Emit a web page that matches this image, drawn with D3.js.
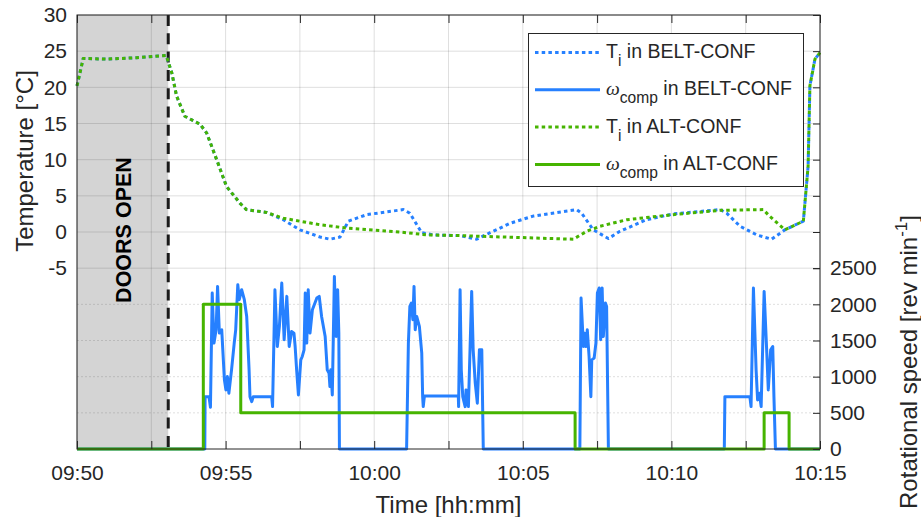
<!DOCTYPE html>
<html>
<head>
<meta charset="utf-8">
<script src="https://cdn.jsdelivr.net/npm/d3@7"></script>
<style>
  body { margin: 0; background: #fff; }
  text { font-family: "Liberation Sans", Arial, sans-serif; fill: #262626; }
</style>
</head>
<body>
<div id="chart"></div>
<script>
// Time is in minutes after 09:50
const xTicks = d3.range(0, 25.001, 2.5);
const xLabelMinutes = [0, 5, 10, 15, 20, 25];
const xTickLabels = ["09:50", "09:55", "10:00", "10:05", "10:10", "10:15"];
const tempTicks = [-5, 0, 5, 10, 15, 20, 25, 30];
const speedTicks = [0, 500, 1000, 1500, 2000, 2500];

const doorsClosedAt = 3.07;

// Ti in BELT-CONF  [minute, °C]
const tempBelt = [[0,20.2],[0.21,24.0],[1,23.9],[2,24.1],[3.0,24.4],[3.19,22.0],[3.35,18.8],[3.63,16.0],[4.14,14.9],
  [4.36,13.7],[4.7,10.0],[5.03,6.3],[5.48,4.0],[5.7,3.1],[6.38,2.7],[6.94,1.7],[7.5,0.3],[8.18,-0.7],[8.51,-1.0],
  [8.85,-0.7],[9.13,1.5],[9.75,2.4],[10.98,3.1],[11.2,2.6],[11.6,-0.1],[11.99,-0.4],[12.9,-0.5],[13.45,-1.0],
  [13.9,-0.1],[14.57,1.2],[15.35,2.2],[16.81,3.1],[16.98,2.6],[17.37,0.3],[17.88,-0.9],[18.27,0.1],[19.16,1.7],
  [20.06,2.5],[21.64,3.1],[21.86,2.6],[22.31,0.8],[22.87,-0.4],[23.37,-1.0],[23.82,0.3],[24.44,1.5],[24.6,9.1],
  [24.66,20.2],[24.83,23.9],[25,24.8]];

// Ti in ALT-CONF  [minute, °C]
const tempAlt = [[0,20.2],[0.21,24.0],[1,23.9],[2,24.1],[3.0,24.4],[3.19,22.0],[3.35,18.8],[3.63,16.0],[4.14,14.9],
  [4.36,13.7],[4.7,10.0],[5.03,6.3],[5.48,4.0],[5.7,3.1],[6.38,2.7],[6.94,1.9],[8.18,1.0],[9.07,0.55],[10.87,0.0],
  [11.77,-0.4],[12.89,-0.5],[16.7,-1.0],[17.15,0.1],[17.6,0.8],[18.5,1.7],[20.06,2.4],[21.64,3.0],[23.09,3.1],
  [23.3,2.2],[23.82,0.3],[24.44,1.5],[24.6,9.1],[24.66,20.2],[24.83,23.9],[25,24.8]];

// omega_comp in BELT-CONF  [minute, rev/min]
const speedBelt = [[0,0],[4.30,0],[4.31,724],[4.44,724],[4.49,577],[4.55,2156],[4.61,1464],[4.68,1648],[4.73,2248],
  [4.79,1602],[4.87,1648],[4.96,956],[5.01,817],[5.06,1001],[5.11,771],[5.20,1094],[5.29,1464],[5.34,1648],
  [5.41,2271],[5.46,2064],[5.54,2202],[5.63,2064],[5.71,1832],[5.79,1094],[5.82,724],[5.88,655],[5.93,724],
  [6.55,724],[6.58,586],[6.66,2202],[6.74,1417],[6.81,1694],[6.89,2295],[6.97,1510],[7.06,2110],[7.14,1417],
  [7.22,1625],[7.30,1602],[7.34,1417],[7.39,1094],[7.45,748],[7.53,1232],[7.58,1279],[7.64,1371],[7.68,2156],
  [7.73,1464],[7.78,2202],[7.84,1602],[7.92,1925],[8.07,2087],[8.15,2110],[8.23,1832],[8.35,1555],[8.42,1094],
  [8.48,1048],[8.51,863],[8.54,1094],[8.59,748],[8.66,2386],[8.72,1555],[8.77,2202],[8.81,1602],[8.83,0],
  [11.09,0],[11.15,1464],[11.20,1971],[11.25,2018],[11.30,1787],[11.34,2248],[11.38,1648],[11.43,1832],
  [11.52,1694],[11.60,1325],[11.63,724],[11.65,586],[11.69,734],[12.83,734],[12.84,586],[12.89,2202],
  [12.93,1094],[12.98,724],[13.06,586],[13.09,817],[13.17,586],[13.28,2179],[13.33,1371],[13.40,910],
  [13.47,633],[13.54,1371],[13.62,1371],[13.64,817],[13.67,0],[16.92,0],[16.96,2087],[17.04,1417],[17.07,1602],
  [17.12,1417],[17.17,1648],[17.23,1279],[17.29,724],[17.32,1232],[17.40,1256],[17.46,1464],[17.51,2156],
  [17.57,2226],[17.62,1510],[17.67,2226],[17.71,1555],[17.78,2018],[17.82,1971],[17.88,0],[21.78,0],
  [21.80,724],[22.64,724],[22.68,586],[22.76,2226],[22.85,1094],[22.90,679],[22.96,771],[23.02,586],
  [23.12,2179],[23.21,1325],[23.26,817],[23.34,1371],[23.41,1417],[23.45,724],[23.50,0],[25,0]];

// omega_comp in ALT-CONF  [minute, rev/min]
const speedAlt = [[0,0],[4.25,0],[4.25,2000],[5.51,2000],[5.51,500],[16.76,500],[16.76,0],[23.12,0],
  [23.12,500],[23.96,500],[23.96,0],[25,0]];

const legendNames = [
  {sym: "T", sub: "i", rest: " in BELT-CONF"},
  {sym: "\u03c9", sub: "comp", rest: " in BELT-CONF"},
  {sym: "T", sub: "i", rest: " in ALT-CONF"},
  {sym: "\u03c9", sub: "comp", rest: " in ALT-CONF"}
];

const blue = "#2680ff", green = "#46b400", axisColor = "#262626";

const W = 921, H = 517;
const plot = {left: 77, right: 820, top: 15, bottom: 449};

const svg = d3.select("#chart").append("svg")
    .attr("width", W)
    .attr("height", H);

const x = d3.scaleLinear().domain([0, 25]).range([plot.left, plot.right]);
const yT = d3.scaleLinear().domain([-30, 30]).range([plot.bottom, plot.top]);
const yS = d3.scaleLinear().domain([0, 6000]).range([plot.bottom, plot.top]);

// Shaded doors-open period
svg.append("rect")
    .attr("x", x(0))
    .attr("y", plot.top)
    .attr("width", x(doorsClosedAt) - x(0))
    .attr("height", plot.bottom - plot.top)
    .attr("fill", "#d4d4d4");

// Grid
const grid = svg.append("g").attr("stroke", "rgba(38,38,38,0.15)").attr("stroke-width", 1);
xTicks.forEach(t => grid.append("line")
    .attr("x1", x(t)).attr("x2", x(t)).attr("y1", plot.top).attr("y2", plot.bottom));
tempTicks.forEach(v => grid.append("line")
    .attr("x1", plot.left).attr("x2", plot.right).attr("y1", yT(v)).attr("y2", yT(v)));
speedTicks.filter(v => v > 0 && v < 2500).forEach(v => grid.append("line")
    .attr("x1", plot.left).attr("x2", plot.right).attr("y1", yS(v)).attr("y2", yS(v))
    .attr("stroke-dasharray", "2,2"));

// Doors line and label
svg.append("line")
    .attr("x1", x(doorsClosedAt)).attr("x2", x(doorsClosedAt))
    .attr("y1", plot.top).attr("y2", plot.bottom)
    .attr("stroke", "#1a1a1a")
    .attr("stroke-width", 3)
    .attr("stroke-dasharray", "11,7.3");

svg.append("text")
    .attr("transform", `translate(${(x(0) + x(doorsClosedAt)) / 2 + 8},230) rotate(-90)`)
    .attr("text-anchor", "middle")
    .style("font-weight", "bold")
    .style("font-size", "21.5px")
    .style("fill", "#000")
    .text("DOORS OPEN");

// Lines
const tempLine = d3.line().x(d => x(d[0])).y(d => yT(d[1]));
const speedLine = d3.line().x(d => x(d[0])).y(d => yS(d[1]));

function drawLine(data, gen, color, dotted) {
    svg.append("path")
        .datum(data)
        .attr("d", gen)
        .attr("fill", "none")
        .attr("stroke", color)
        .attr("stroke-width", 3)
        .attr("stroke-linejoin", "round")
        .attr("stroke-dasharray", dotted ? "3.5,3.2" : null);
}

drawLine(tempBelt, tempLine, blue, true);
drawLine(tempAlt, tempLine, green, true);
drawLine(speedBelt, speedLine, blue, false);
drawLine(speedAlt, speedLine, green, false);

// Axes
const xFormat = d => {
    const i = xLabelMinutes.indexOf(d);
    return i >= 0 ? xTickLabels[i] : "";
};

function styleAxis(g) {
    g.select(".domain").remove();
    g.selectAll("line").attr("stroke", axisColor);
    g.selectAll("text").style("fill", axisColor).style("font-family", "'Liberation Sans', Arial, sans-serif");
}

svg.append("g")
    .attr("transform", `translate(0,${plot.bottom})`)
    .call(d3.axisBottom(x).tickValues(xTicks).tickFormat(xFormat).tickSize(-8).tickPadding(16))
    .call(styleAxis)
    .selectAll("text").style("font-size", "21px");

svg.append("g")
    .attr("transform", `translate(0,${plot.top})`)
    .call(d3.axisTop(x).tickValues(xTicks).tickFormat("").tickSize(-8))
    .call(styleAxis);

svg.append("g")
    .attr("transform", `translate(${plot.left},0)`)
    .call(d3.axisLeft(yT).tickValues(tempTicks).tickFormat(d => String(d)).tickSize(0).tickPadding(10))
    .call(styleAxis)
    .selectAll("text").style("font-size", "21px");

svg.append("g")
    .attr("transform", `translate(${plot.right},0)`)
    .call(d3.axisRight(yS).tickValues(speedTicks).tickFormat(d => String(d)).tickSize(-7).tickPadding(10))
    .call(styleAxis)
    .selectAll("text").style("font-size", "21px");

svg.append("g")
    .attr("transform", `translate(${plot.right},0)`)
    .call(d3.axisRight(yT).tickValues(tempTicks).tickFormat("").tickSize(-7))
    .call(styleAxis);

// Frame
svg.append("rect")
    .attr("x", plot.left)
    .attr("y", plot.top)
    .attr("width", plot.right - plot.left)
    .attr("height", plot.bottom - plot.top)
    .attr("fill", "none")
    .attr("stroke", axisColor)
    .attr("stroke-width", 1);

// Axis labels
svg.append("text")
    .attr("x", (plot.left + plot.right) / 2)
    .attr("y", 513)
    .attr("text-anchor", "middle")
    .style("font-size", "24px")
    .text("Time [hh:mm]");

svg.append("text")
    .attr("transform", "translate(33,161) rotate(-90)")
    .attr("text-anchor", "middle")
    .style("font-size", "24px")
    .text("Temperature [\u00b0C]");

const rLabel = svg.append("text")
    .attr("transform", "translate(917,362) rotate(-90)")
    .attr("text-anchor", "middle")
    .style("font-size", "24px");
rLabel.append("tspan").text("Rotational speed [rev min");
rLabel.append("tspan").attr("dy", -10).style("font-size", "17px").text("-1");
rLabel.append("tspan").attr("dy", 10).text("]");

// Legend
const legend = svg.append("g");
legend.append("rect")
    .attr("x", 528.5).attr("y", 33.5)
    .attr("width", 275).attr("height", 153)
    .attr("fill", "#fff")
    .attr("stroke", axisColor)
    .attr("stroke-width", 1);

const legendColors = [blue, blue, green, green];
const legendDotted = [true, false, true, false];

legendNames.forEach((n, i) => {
    const ly = 52.5 + i * 37.3;
    legend.append("line")
        .attr("x1", 535).attr("x2", 600)
        .attr("y1", ly).attr("y2", ly)
        .attr("stroke", legendColors[i])
        .attr("stroke-width", 3)
        .attr("stroke-dasharray", legendDotted[i] ? "3.5,3.2" : null);
    const t = legend.append("text")
        .attr("x", 606)
        .attr("y", ly + 5.5)
        .style("font-size", "19.5px");
    const s = t.append("tspan").text(n.sym);
    if (n.sym !== "T") s.style("font-family", "'Liberation Serif', serif").style("font-style", "italic");
    t.append("tspan").attr("dy", 8).style("font-size", "15.6px").text(n.sub);
    t.append("tspan").attr("dy", -8).text(n.rest);
});
</script>
</body>
</html>
